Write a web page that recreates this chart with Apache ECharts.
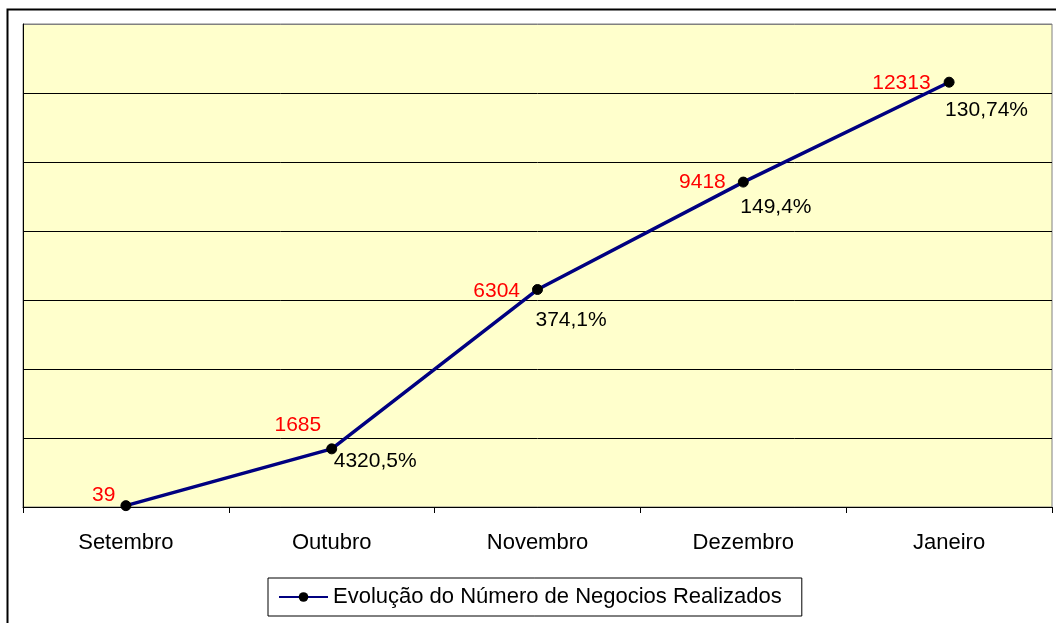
<!DOCTYPE html>
<html>
<head>
<meta charset="utf-8">
<script src="https://cdn.jsdelivr.net/npm/echarts@6/dist/echarts.min.js"></script>
<style>
html,body{margin:0;padding:0;background:#fff;}
#chart{width:1056px;height:623px;}
</style>
</head>
<body>
<div id="chart"></div>
<script>
// ---- data ----
var categories = ['Setembro', 'Outubro', 'Novembro', 'Dezembro', 'Janeiro'];
var negocios = [39, 1685, 6304, 9418, 12313];
var variacao = ['', '4320,5%', '374,1%', '149,4%', '130,74%'];
var seriesName = 'Evolução do Número de Negocios Realizados';
var yMin = 0, yMax = 14000, yStep = 2000;

// ---- label placement (style only) ----
var valueOffsets = [[-5, -10], [-5, -24], [-12, 2], [-12, 0], [-13, 1]];
var pctOffsets = [[0, 0], [-3, 12], [-7, 31], [-8, 25], [-9, 28]];

var FONT = '"Liberation Sans", Arial, sans-serif';

var chart = echarts.init(document.getElementById('chart'), null, {renderer: 'canvas'});

var mainData = negocios.map(function (v, i) {
  return {value: v, label: {offset: valueOffsets[i]}};
});
var pctData = negocios.map(function (v, i) {
  return {value: v, label: {offset: pctOffsets[i]}};
});

var splitColors = [];
for (var t = yMin; t <= yMax; t += yStep) splitColors.push(t === yMax ? '#808080' : '#000000');

chart.setOption({
  animation: false,
  backgroundColor: '#ffffff',
  textStyle: {fontFamily: FONT},
  graphic: [{
    type: 'rect',
    left: 5, top: 7,
    shape: {width: 1100, height: 700},
    style: {fill: 'none', stroke: '#000', lineWidth: 2},
    silent: true, z: -10
  }],
  grid: {
    left: 23, right: 4, top: 24, bottom: 116,
    show: true,
    backgroundColor: '#FFFFCC',
    borderColor: '#808080',
    borderWidth: 1
  },
  legend: {
    data: [seriesName],
    left: 268, top: 578,
    orient: 'horizontal',
    backgroundColor: '#ffffff',
    borderColor: '#000',
    borderWidth: 1,
    padding: [8, 20, 8, 10],
    itemWidth: 49,
    itemHeight: 12,
    itemGap: 0,
    textStyle: {fontSize: 22, color: '#000', fontFamily: FONT, padding: [0, 0, 0, 0]}
  },
  xAxis: {
    type: 'category',
    data: categories,
    boundaryGap: true,
    axisLine: {show: true, lineStyle: {color: '#000', width: 1}},
    axisTick: {show: true, length: 6, lineStyle: {color: '#000'}},
    axisLabel: {fontSize: 22, color: '#000', margin: 25, fontFamily: FONT},
    splitLine: {show: false}
  },
  yAxis: {
    type: 'value',
    min: yMin, max: yMax, interval: yStep,
    axisLine: {show: true, lineStyle: {color: '#000', width: 1}},
    axisTick: {show: false},
    axisLabel: {show: false},
    splitLine: {show: true, lineStyle: {color: splitColors, width: 1}}
  },
  series: [
    {
      name: seriesName,
      type: 'line',
      data: mainData,
      symbol: 'circle',
      symbolSize: 10,
      lineStyle: {color: '#000080', width: 3.5},
      itemStyle: {color: '#000000', borderColor: '#000000'},
      color: '#000080',
      label: {
        show: true,
        position: 'left',
        distance: 0,
        color: '#FF0000',
        fontSize: 21,
        fontFamily: FONT
      },
      z: 3
    },
    {
      name: 'pct',
      type: 'scatter',
      data: pctData,
      symbol: 'circle',
      symbolSize: 10,
      itemStyle: {color: 'rgba(0,0,0,0)', opacity: 1},
      label: {
        show: true,
        position: 'right',
        distance: 0,
        color: '#000000',
        opacity: 1,
        fontSize: 21,
        fontFamily: FONT,
        formatter: function (p) { return variacao[p.dataIndex]; }
      },
      z: 4
    }
  ]
});
</script>
</body>
</html>
